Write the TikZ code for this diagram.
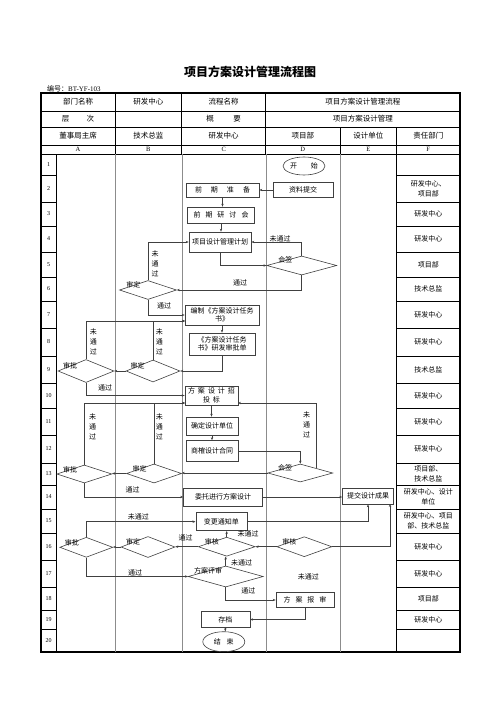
\documentclass[tikz,border=0pt]{standalone}
\usepackage{fontspec}
\setmainfont{Liberation Serif}
\newfontfamily\cjk{Noto Sans CJK SC}
\usetikzlibrary{shapes.geometric,arrows.meta}

\begin{document}
\begin{tikzpicture}[x=1pt,y=-1pt, %Escala em pontos, y para baixo
  >={Stealth[length=3pt,width=2.4pt]},
  caixa/.style={draw=black!75, line width=0.6pt, inner sep=0pt, align=center, font=\cjk\fontsize{7}{8.5}\selectfont},
  losango/.style={diamond, draw=black!75, line width=0.6pt, inner sep=0pt},
  elipse/.style={ellipse, draw=black!75, line width=0.6pt, inner sep=0pt, font=\cjk\fontsize{7}{8.5}\selectfont},
  rotulo/.style={inner sep=0pt, align=center, font=\cjk\fontsize{7}{10}\selectfont},
  cab/.style={inner sep=0pt, align=center, font=\cjk\fontsize{7.5}{9}\selectfont},
  num/.style={inner sep=0pt, font=\fontsize{6}{7}\selectfont},
  seta/.style={->, draw=black!75, line width=0.5pt},
  faixa/.style={draw=black!45, line width=0.4pt}]
\useasboundingbox (0,0) rectangle (500,707);
						%Titulo
\node[font=\cjk\bfseries\fontsize{12}{14}\selectfont] (titulo) at (250,72) {项目方案设计管理流程图};
\node[anchor=west, inner sep=0pt, font=\fontsize{7}{8}\selectfont] (codigo) at (47,88.5) {{\cjk 编号：}BT-YF-103};
						%Tabela
\draw[line width=1.2pt] (41,93) rectangle (460,652);
\draw[line width=0.6pt] (41,111) -- (460,111) (41,127) -- (460,127) (41,145) -- (460,145) (41,154) -- (460,154);
\draw[line width=0.6pt] (115,93) -- (115,154) (181.7,93) -- (181.7,154) (265.7,93) -- (265.7,154) (340,127) -- (340,154);
\draw[line width=0.6pt] (56,154) -- (56,652) (396.7,127) -- (396.7,652);
\draw[faixa] (115,154) -- (115,652) (181.7,154) -- (181.7,652) (265.7,154) -- (265.7,652) (340,154) -- (340,652); %Raias
						%Cabecalho
\node[cab] (h11) at (78,102) {部门名称};
\node[cab] (h12) at (148.3,102) {研发中心};
\node[cab] (h13) at (223.7,102) {流程名称};
\node[cab] (h14) at (362.8,102) {项目方案设计管理流程};
\node[cab] (h21) at (78,119) {层\hspace{17.5pt}次};
\node[cab] (h23) at (223.7,119) {概\hspace{19.5pt}要};
\node[cab] (h24) at (362.8,119) {项目方案设计管理};
\node[cab] (h31) at (78,136) {董事局主席};
\node[cab] (h32) at (148.3,136) {技术总监};
\node[cab] (h33) at (223.7,136) {研发中心};
\node[cab] (h34) at (302.8,136) {项目部};
\node[cab] (h35) at (368.3,136) {设计单位};
\node[cab] (h36) at (428.3,136) {责任部门};
\node[num, font=\fontsize{6.5}{7}\selectfont] (la) at (78,149.5) {A};
\node[num, font=\fontsize{6.5}{7}\selectfont] (lb) at (148.3,149.5) {B};
\node[num, font=\fontsize{6.5}{7}\selectfont] (lc) at (223.7,149.5) {C};
\node[num, font=\fontsize{6.5}{7}\selectfont] (ld) at (302.8,149.5) {D};
\node[num, font=\fontsize{6.5}{7}\selectfont] (le) at (368.3,149.5) {E};
\node[num, font=\fontsize{6.5}{7}\selectfont] (lf) at (428.3,149.5) {F};
						%Linhas numeradas e responsaveis
\foreach \n/\a/\b/\t in {1/154/175/{}, 2/175/202/{研发中心、\\项目部}, 3/202/226/{研发中心}, 4/226/252/{研发中心},
  5/252/277/{项目部}, 6/277/301/{技术总监}, 7/301/328/{研发中心}, 8/328/356/{研发中心}, 9/356/383/{技术总监},
  10/383/408/{研发中心}, 11/408/435/{研发中心}, 12/435/463/{研发中心}, 13/463/485/{项目部、\\技术总监},
  14/485/509/{研发中心、设计\\单位}, 15/509/533/{研发中心、项目\\部、技术总监}, 16/533/560/{研发中心},
  17/560/587/{研发中心}, 18/587/610/{项目部}, 19/610/629/{研发中心}, 20/629/652/{}}{
  \draw[line width=0.6pt] (41,\b) -- (56,\b) (396.7,\b) -- (460,\b);
  \node[num] (n\n) at (48.5,{(\a+\b)/2}) {\n};
  \node[rotulo, font=\cjk\fontsize{7}{10}\selectfont] (f\n) at (428.3,{(\a+\b)/2}) {\t};
}
						%Fluxo
\node[elipse, minimum width=42pt, minimum height=18pt] (inicio) at (304,166) {开\hspace{13.7pt}始};
\node[caixa, minimum width=60pt, minimum height=15pt] (ziliao) at (303,190) {资料提交};
\node[caixa, minimum width=73pt, minimum height=14pt] (qianqi) at (222.5,190) {前\hspace{9pt}期\hspace{9pt}准\hspace{9pt}备};
\node[caixa, minimum width=67pt, minimum height=16pt] (yantao) at (221,215) {前\hspace{5pt}期\hspace{5pt}研\hspace{5pt}讨\hspace{5pt}会};
\node[caixa, minimum width=62pt, minimum height=20pt] (jihua) at (220,242) {项目设计管理计划};
\node[losango, minimum width=70pt, minimum height=19pt, label={[rotulo,anchor=center]162:会签}] (huiqian1) at (301.7,265.5) {};
\node[losango, minimum width=57pt, minimum height=19pt, label={[rotulo,anchor=center]162:审定}] (shending1) at (148,290) {};
\node[caixa, minimum width=74pt, minimum height=20pt] (bianzhi) at (222,315) {编制《方案设计任务\\书》};
\node[caixa, minimum width=66pt, minimum height=22pt] (shenpidan) at (222,344) {《方案设计任务\\书》研发审批单};
\node[losango, minimum width=54pt, minimum height=22pt, label={[rotulo,anchor=center]162:审定}] (shending2) at (153,371) {};
\node[losango, minimum width=56pt, minimum height=23pt, label={[rotulo,anchor=center]162:审批}] (shenpi2) at (86,371) {};
\node[caixa, minimum width=53pt, minimum height=19pt] (zhaotoubiao) at (211.5,395.5) {方\hspace{3pt}案\hspace{3pt}设\hspace{3pt}计\hspace{3pt}招\\投\hspace{3pt}标};
\node[caixa, minimum width=52pt, minimum height=18pt] (queding) at (212,426) {确定设计单位};
\node[caixa, minimum width=52pt, minimum height=21pt] (shangque) at (212,451) {商榷设计合同};
\node[losango, minimum width=65pt, minimum height=18pt, label={[rotulo,anchor=center]162:会签}] (huiqian2) at (300.3,473) {};
\node[losango, minimum width=55pt, minimum height=19pt, label={[rotulo,anchor=center]162:审定}] (shending3) at (154,473.5) {};
\node[losango, minimum width=55pt, minimum height=18pt, label={[rotulo,anchor=center]162:审批}] (shenpi3) at (84.3,474) {};
\node[caixa, minimum width=79pt, minimum height=18pt] (weituo) at (223,497) {委托进行方案设计};
\node[caixa, minimum width=51pt, minimum height=16pt] (tijiao) at (368,496) {提交设计成果};
\node[caixa, minimum width=51pt, minimum height=18pt] (biangeng) at (221.3,521.7) {变更通知单};
\node[losango, minimum width=55pt, minimum height=20pt, label={[rotulo,anchor=center]162:审核}] (shenhe2) at (304.3,546.7) {};
\node[losango, minimum width=57pt, minimum height=19pt, label={[rotulo,anchor=center]162:审核}] (shenhe1) at (226.7,546.7) {};
\node[losango, minimum width=54pt, minimum height=21pt, label={[rotulo,anchor=center]162:审定}] (shending4) at (148,547) {};
\node[losango, minimum width=53pt, minimum height=20pt, label={[rotulo,anchor=center]162:审批}] (shenpi4) at (86.3,547.3) {};
\node[losango, minimum width=75pt, minimum height=21pt, label={[rotulo,anchor=center]162:方案评审}] (pingshen) at (225.7,576.5) {};
\node[caixa, minimum width=58pt, minimum height=15pt] (baoshen) at (305,600) {方\hspace{5pt}案\hspace{5pt}报\hspace{5pt}审};
\node[caixa, minimum width=49pt, minimum height=16pt] (cundang) at (225.3,619.5) {存档};
\node[elipse, minimum width=42pt, minimum height=20pt] (fim) at (223.8,641.7) {结\hspace{5.7pt}束};
						%Pontos de entrada
\coordinate (e1) at (185,321);
\coordinate (e2) at (185,403);
\coordinate (e3) at (238,403);
\coordinate (e4) at (390,504);
						%Setas
\draw[seta] (ziliao.west) -- (qianqi.east);
\draw[seta] (qianqi.south) -- (qianqi.south |- yantao.north);
\draw[seta] (yantao.south) -- (yantao.south |- jihua.north);
\draw[seta] (jihua.south) |- (huiqian1.west);
\draw[seta] (huiqian1.north) |- (jihua.east);
\draw[seta] (huiqian1.south) |- (shending1.east);
\draw[seta] (shending1.north) |- (jihua.west);
\draw[seta] (shending1.south) |- (bianzhi.west);
\draw[seta] (bianzhi.south) -- (shenpidan.north);
\draw[seta] (shenpidan.south) |- (shending2.east);
\draw[seta] (shending2.west) -- (shenpi2.east);
\draw[seta] (shenpi2.north) |- (e1);
\draw[seta] (shending2.north) |- (e1);
\draw[seta] (shenpi2.south) |- (zhaotoubiao.west);
\draw[seta] (zhaotoubiao.south) -- (zhaotoubiao.south |- queding.north);
\draw[seta] (queding.south) -- (shangque.north);
\draw[seta] (shangque.east) -| (huiqian2.north);
\draw[seta] (huiqian2.west) -- (huiqian2.west -| shending3.east);
\draw[seta] (shending3.west) -- (shending3.west -| shenpi3.east);
\draw[seta] (shenpi3.north) |- (e2);
\draw[seta] (shending3.north) |- (e2);
\draw[seta] (huiqian2.north east) |- (e3);
\draw[seta] (shenpi3.south) |- (weituo.west);
\draw[seta] (weituo.east) -- (weituo.east -| tijiao.west);
\draw[seta] (biangeng.east) -| (tijiao.south);
\draw[seta] (shenhe2.east) -| (e4);
\draw[seta] (shenhe2.west) -- (shenhe1.east);
\draw[seta] (shenhe1.north) -- (shenhe1.north |- biangeng.south);
\draw[seta] (shenhe1.west) -- (shenhe1.west -| shending4.east);
\draw[seta] (shending4.west) -- (shending4.west -| shenpi4.east);
\draw[seta] (shenpi4.north) |- (biangeng.west);
\draw[seta] (shenpi4.south) |- (pingshen.west);
\draw[seta] (pingshen.north) -- (pingshen.north |- shenhe1.south);
\draw[seta] (pingshen.south) |- (baoshen.west);
\draw[seta] (baoshen.south) |- (cundang.east);
\draw[seta] (cundang.south) -- (cundang.south |- fim.north);
						%Rotulos das setas
\node[rotulo] (l1) at (280,239.3) {未通过};
\node[rotulo] (l2) at (240,283.3) {通过};
\node[rotulo] (l3) at (155,263.3) {未\\通\\过};
\node[rotulo] (l4) at (164,305.7) {通过};
\node[rotulo] (l5) at (93.3,341.7) {未\\通\\过};
\node[rotulo] (l6) at (159.3,341.7) {未\\通\\过};
\node[rotulo] (l7) at (105,388.3) {通过};
\node[rotulo] (l8) at (92.7,426.7) {未\\通\\过};
\node[rotulo] (l9) at (159.3,426.7) {未\\通\\过};
\node[rotulo] (l10) at (306.7,425) {未\\通\\过};
\node[rotulo] (l11) at (132.7,490) {通过};
\node[rotulo] (l12) at (138.3,516.7) {未通过};
\node[rotulo] (l13) at (185.7,537.7) {通过};
\node[rotulo] (l14) at (248,534.2) {未通过};
\node[rotulo] (l15) at (241.7,562.7) {未通过};
\node[rotulo] (l16) at (135,572.7) {通过};
\node[rotulo] (l17) at (248.3,590.7) {通过};
\node[rotulo] (l18) at (308.3,577.3) {未通过};
\end{tikzpicture}
\end{document}
